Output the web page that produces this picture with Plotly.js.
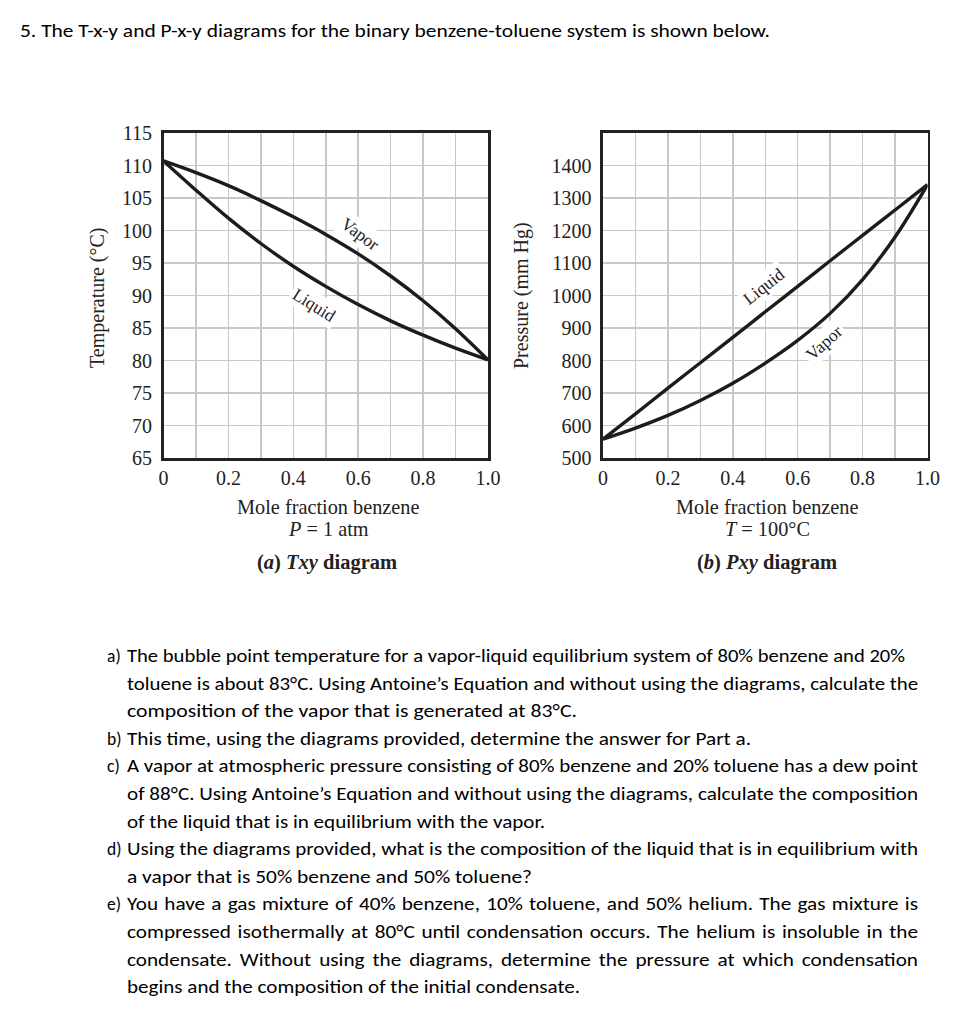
<!DOCTYPE html>
<html>
<head>
<meta charset="utf-8">
<script src="https://cdn.plot.ly/plotly-3.0.1.min.js"></script>
<style>
  html, body { margin: 0; padding: 0; background: #fff; }
  #chart { position: absolute; left: 0; top: 0; width: 980px; height: 1024px; }
  .txt {
    position: absolute; white-space: nowrap;
    font-family: Carlito, Calibri, 'Open Sans', 'Liberation Sans', sans-serif;
    font-size: 17.5px; line-height: 22px; color: #000;
    transform-origin: 0 50%;
  }
</style>
</head>
<body>
<div id="chart"></div>
<div id="textlayer"></div>
<script>
// ---------- data ----------
const moleFraction = [0, 0.1, 0.2, 0.3, 0.4, 0.5, 0.6, 0.7, 0.8, 0.9, 1.0];
// Txy diagram at P = 1 atm (temperature, °C)
const txyLiquidT = [110.7, 106.2, 101.9, 98.0, 94.5, 91.4, 88.6, 86.1, 83.9, 81.9, 80.1];
const txyVaporT  = [110.7, 108.9, 106.9, 104.6, 102.1, 99.4, 96.4, 93.0, 89.2, 84.9, 80.1];
// Pxy diagram at T = 100 °C (pressure, mm Hg)
const pxyLiquidP = [558, 636, 715, 793, 871, 950, 1028, 1107, 1185, 1263, 1341];
const pxyVaporP  = [558, 592, 631, 677, 730, 792, 862, 945, 1049, 1180, 1341];
// tick labels
const xTickVals = [0, 0.1, 0.2, 0.3, 0.4, 0.5, 0.6, 0.7, 0.8, 0.9, 1.0];
const xTickText = ['0', '', '0.2', '', '0.4', '', '0.6', '', '0.8', '', '1.0'];
const tTickVals = [65, 70, 75, 80, 85, 90, 95, 100, 105, 110, 115];
const pTickVals = [500, 600, 700, 800, 900, 1000, 1100, 1200, 1300, 1400];

// ---------- figure ----------
const W = 980, H = 1024;
const px = v => v / W;
const py = v => 1 - v / H;
const serif = 'Liberation Serif, Times New Roman, serif';
const curve = { color: '#1c1c1c', width: 3.4, shape: 'spline', smoothing: 1 };

const traces = [
  { x: moleFraction, y: txyLiquidT, xaxis: 'x', yaxis: 'y', mode: 'lines', line: curve, name: 'Liquid' },
  { x: moleFraction, y: txyVaporT, xaxis: 'x', yaxis: 'y', mode: 'lines', line: curve, name: 'Vapor' },
  { x: moleFraction, y: pxyLiquidP, xaxis: 'x2', yaxis: 'y2', mode: 'lines', line: curve, name: 'Liquid' },
  { x: moleFraction, y: pxyVaporP, xaxis: 'x2', yaxis: 'y2', mode: 'lines', line: curve, name: 'Vapor' }
];

const axisBase = {
  showgrid: true, gridcolor: '#c8c8c8', gridwidth: 1.5,
  showline: true, mirror: true, linecolor: '#222', linewidth: 2.6,
  zeroline: false, ticks: '', fixedrange: true,
  tickfont: { family: serif, size: 20, color: '#222' }
};
const xAxis = (dom, anchor) => Object.assign({}, axisBase, {
  domain: dom, range: [0, 1], anchor: anchor,
  tickmode: 'array', tickvals: xTickVals, ticktext: xTickText, ticklabelstandoff: 0
});

const layout = {
  width: W, height: H, margin: { l: 0, r: 0, t: 0, b: 0 },
  paper_bgcolor: '#fff', plot_bgcolor: '#fff', showlegend: false,
  xaxis: xAxis([px(163.5), px(488)], 'y'),
  yaxis: Object.assign({}, axisBase, {
    domain: [py(458), py(133)], range: [65, 115], anchor: 'x',
    tickmode: 'array', tickvals: tTickVals, ticktext: tTickVals.map(String), ticklabelstandoff: 5
  }),
  xaxis2: xAxis([px(603), px(927.5)], 'y2'),
  yaxis2: Object.assign({}, axisBase, {
    domain: [py(458), py(133)], range: [500, 1500], anchor: 'x2',
    tickmode: 'array', tickvals: pTickVals, ticktext: pTickVals.map(String), ticklabelstandoff: 5
  }),
  annotations: []
};

const ann = (x, y, text, size, extra) => Object.assign({
  xref: 'paper', yref: 'paper', x: px(x), y: py(y), text: text, showarrow: false,
  xanchor: 'center', yanchor: 'middle', font: { family: serif, size: size, color: '#222' }
}, extra || {});

layout.annotations.push(
  ann(97, 298, 'Temperature (°C)', 20, { textangle: -90 }),
  ann(521, 296, 'Pressure (mm Hg)', 20, { textangle: -90 }),
  ann(328, 507, 'Mole fraction benzene', 20.3),
  ann(328, 529, '<i>P</i> = 1 atm', 20.3),
  ann(327, 562, '<b>(<i>a</i>) <i>Txy</i> diagram</b>', 20.5),
  ann(767, 507, 'Mole fraction benzene', 20.3),
  ann(767, 529, '<i>T</i> = 100°C', 20.3),
  ann(767, 562, '<b>(<i>b</i>) <i>Pxy</i> diagram</b>', 20.5)
);
// curve labels (data coordinates)
const curveLabel = (xr, yr, x, y, text, angle) => ({
  xref: xr, yref: yr, x: x, y: y, text: text, showarrow: false, textangle: angle,
  bgcolor: '#fff', borderpad: 2, font: { family: serif, size: 17.5, color: '#222' }
});
layout.annotations.push(
  curveLabel('x', 'y', 0.606, 99.4, 'Vapor', 36),
  curveLabel('x', 'y', 0.465, 88.6, 'Liquid', 32),
  curveLabel('x2', 'y2', 0.496, 1030, 'Liquid', -38),
  curveLabel('x2', 'y2', 0.680, 855, 'Vapor', -42)
);

Plotly.newPlot('chart', traces, layout, { displayModeBar: false, staticPlot: true });

// ---------- question text ----------
const titleLine = '5. The T-x-y and P-x-y diagrams for the binary benzene-toluene system is shown below.';
const questionLabels = ['a)', 'b)', 'c)', 'd)', 'e)'];
const questionLines = [
  [0, 'The bubble point temperature for a vapor-liquid equilibrium system of 80% benzene and 20%', 905, false],
  [-1, 'toluene is about 83°C. Using Antoine\u2019s Equation and without using the diagrams, calculate the', 918, true],
  [-1, 'composition of the vapor that is generated at 83°C.', 577, false],
  [1, 'This time, using the diagrams provided, determine the answer for Part a.', 751, false],
  [2, 'A vapor at atmospheric pressure consisting of 80% benzene and 20% toluene has a dew point', 918, true],
  [-1, 'of 88°C. Using Antoine\u2019s Equation and without using the diagrams, calculate the composition', 918, true],
  [-1, 'of the liquid that is in equilibrium with the vapor.', 545, false],
  [3, 'Using the diagrams provided, what is the composition of the liquid that is in equilibrium with', 918, true],
  [-1, 'a vapor that is 50% benzene and 50% toluene?', 532, false],
  [4, 'You have a gas mixture of 40% benzene, 10% toluene, and 50% helium. The gas mixture is', 918, true],
  [-1, 'compressed isothermally at 80°C until condensation occurs. The helium is insoluble in the', 918, true],
  [-1, 'condensate. Without using the diagrams, determine the pressure at which condensation', 918, true],
  [-1, 'begins and the composition of the initial condensate.', 580, false]
];

function buildText() {
  const layer = document.getElementById('textlayer');
  const mk = (text, left, cy) => {
    const d = document.createElement('div');
    d.className = 'txt';
    d.textContent = text;
    d.style.left = left + 'px';
    d.style.top = (cy - 11) + 'px';
    layer.appendChild(d);
    return d;
  };
  // title
  const t = mk(titleLine, 20, 31);
  const tw = t.getBoundingClientRect().width;
  t.style.transform = 'scaleX(' + (750 / tw) + ')';

  const textLeft = 127, step = 27.6, y0 = 656;
  const items = [];
  questionLines.forEach((q, i) => {
    const cy = y0 + i * step;
    if (q[0] >= 0) mk(questionLabels[q[0]], 107, cy);
    const d = mk(q[1], textLeft, cy);
    items.push({ d: d, w: d.getBoundingClientRect().width, target: q[2] - textLeft, just: q[3] });
  });
  const scales = items.filter(o => !o.just).map(o => o.target / o.w);
  const sAvg = scales.reduce((a, b) => a + b, 0) / scales.length;
  items.forEach(o => {
    if (!o.just) {
      o.d.style.transform = 'scaleX(' + (o.target / o.w) + ')';
    } else if (o.w * sAvg <= o.target) {
      o.d.style.width = (o.target / sAvg) + 'px';
      o.d.style.whiteSpace = 'normal';
      o.d.style.textAlign = 'justify';
      o.d.style.textAlignLast = 'justify';
      o.d.style.transform = 'scaleX(' + sAvg + ')';
    } else {
      o.d.style.transform = 'scaleX(' + (o.target / o.w) + ')';
    }
  });
}
if (document.fonts && document.fonts.ready) {
  document.fonts.ready.then(buildText);
} else {
  buildText();
}
</script>
</body>
</html>
